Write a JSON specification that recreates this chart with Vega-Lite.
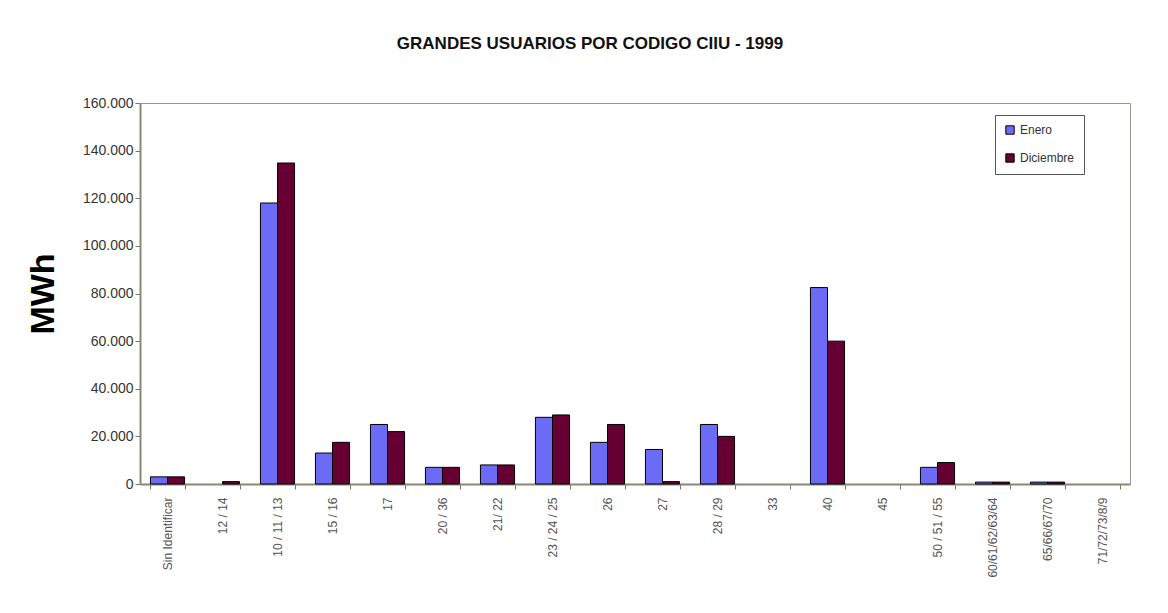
{
  "$schema": "https://vega.github.io/schema/vega-lite/v6.json",
  "width": 990,
  "height": 381,
  "autosize": {"type": "none"},
  "padding": {"left": 140, "top": 103, "right": 38, "bottom": 129},
  "background": "white",
  "title": {
    "text": "GRANDES USUARIOS POR CODIGO CIIU - 1999",
    "font": "Liberation Sans",
    "fontSize": 17,
    "fontWeight": "bold",
    "color": "#111111",
    "anchor": "middle",
    "dx": -45,
    "offset": 43
  },
  "data": {
    "values": [
      {"cat": "Sin Identificar", "mes": "Enero", "mwh": 3000},
      {"cat": "Sin Identificar", "mes": "Diciembre", "mwh": 3000},
      {"cat": "12 / 14", "mes": "Enero", "mwh": 0},
      {"cat": "12 / 14", "mes": "Diciembre", "mwh": 1000},
      {"cat": "10 / 11 / 13", "mes": "Enero", "mwh": 118000},
      {"cat": "10 / 11 / 13", "mes": "Diciembre", "mwh": 134800},
      {"cat": "15 / 16", "mes": "Enero", "mwh": 13000},
      {"cat": "15 / 16", "mes": "Diciembre", "mwh": 17500},
      {"cat": "17", "mes": "Enero", "mwh": 25000},
      {"cat": "17", "mes": "Diciembre", "mwh": 22000},
      {"cat": "20 / 36", "mes": "Enero", "mwh": 7000},
      {"cat": "20 / 36", "mes": "Diciembre", "mwh": 7000},
      {"cat": "21/ 22", "mes": "Enero", "mwh": 8000},
      {"cat": "21/ 22", "mes": "Diciembre", "mwh": 8000},
      {"cat": "23 / 24 / 25", "mes": "Enero", "mwh": 28000},
      {"cat": "23 / 24 / 25", "mes": "Diciembre", "mwh": 29000},
      {"cat": "26", "mes": "Enero", "mwh": 17500},
      {"cat": "26", "mes": "Diciembre", "mwh": 25000},
      {"cat": "27", "mes": "Enero", "mwh": 14500},
      {"cat": "27", "mes": "Diciembre", "mwh": 1000},
      {"cat": "28 / 29", "mes": "Enero", "mwh": 25000},
      {"cat": "28 / 29", "mes": "Diciembre", "mwh": 20000},
      {"cat": "33", "mes": "Enero", "mwh": 0},
      {"cat": "33", "mes": "Diciembre", "mwh": 0},
      {"cat": "40", "mes": "Enero", "mwh": 82500},
      {"cat": "40", "mes": "Diciembre", "mwh": 60000},
      {"cat": "45", "mes": "Enero", "mwh": 0},
      {"cat": "45", "mes": "Diciembre", "mwh": 0},
      {"cat": "50 / 51 / 55", "mes": "Enero", "mwh": 7000},
      {"cat": "50 / 51 / 55", "mes": "Diciembre", "mwh": 9000},
      {"cat": "60/61/62/63/64", "mes": "Enero", "mwh": 800},
      {"cat": "60/61/62/63/64", "mes": "Diciembre", "mwh": 800},
      {"cat": "65/66/67/70", "mes": "Enero", "mwh": 800},
      {"cat": "65/66/67/70", "mes": "Diciembre", "mwh": 800},
      {"cat": "71/72/73/8/9", "mes": "Enero", "mwh": 0},
      {"cat": "71/72/73/8/9", "mes": "Diciembre", "mwh": 0}
    ]
  },
  "transform": [{"filter": "datum.mwh > 0"}],
  "mark": {"type": "bar", "stroke": "#000000", "strokeWidth": 1},
  "encoding": {
    "x": {
      "field": "cat",
      "type": "nominal",
      "sort": null,
      "scale": {
        "domain": ["Sin Identificar", "12 / 14", "10 / 11 / 13", "15 / 16", "17", "20 / 36", "21/ 22", "23 / 24 / 25", "26", "27", "28 / 29", "33", "40", "45", "50 / 51 / 55", "60/61/62/63/64", "65/66/67/70", "71/72/73/8/9"],
        "paddingInner": 0.38,
        "paddingOuter": 0.19
      },
      "axis": {
        "title": null,
        "labelAngle": -90,
        "labelFont": "Liberation Sans",
        "labelFontSize": 12,
        "labelColor": "#555555",
        "labelPadding": 8,
        "tickBand": "extent",
        "tickColor": "#777766",
        "tickSize": 5,
        "domainColor": "#888877",
        "domainWidth": 2,
        "grid": false
      }
    },
    "xOffset": {
      "field": "mes",
      "type": "nominal",
      "sort": ["Enero", "Diciembre"],
      "scale": {"domain": ["Enero", "Diciembre"]}
    },
    "y": {
      "field": "mwh",
      "type": "quantitative",
      "scale": {"domain": [0, 160000], "nice": false},
      "axis": {
        "title": "MWh",
        "titleFont": "Liberation Sans",
        "titleFontSize": 34,
        "titleFontWeight": "bold",
        "titleColor": "#000000",
        "titlePadding": 22,
        "values": [0, 20000, 40000, 60000, 80000, 100000, 120000, 140000, 160000],
        "labelExpr": "replace(format(datum.value, ','), /,/g, '.')",
        "labelFont": "Liberation Sans",
        "labelFontSize": 14,
        "labelColor": "#333333",
        "tickColor": "#777766",
        "tickSize": 5,
        "domainColor": "#888877",
        "domainWidth": 2,
        "grid": false
      }
    },
    "color": {
      "field": "mes",
      "type": "nominal",
      "sort": ["Enero", "Diciembre"],
      "scale": {"domain": ["Enero", "Diciembre"], "range": ["#6b6bf5", "#660033"]},
      "legend": {
        "title": null,
        "orient": "none",
        "legendX": 855,
        "legendY": 12,
        "symbolType": "square",
        "symbolSize": 70,
        "symbolStrokeColor": "#000000",
        "symbolStrokeWidth": 1,
        "labelFont": "Liberation Sans",
        "labelFontSize": 12,
        "labelColor": "#333333",
        "rowPadding": 14,
        "padding": 9,
        "labelLimit": 200,
        "strokeColor": "#555555",
        "fillColor": "white"
      }
    }
  },
  "config": {
    "view": {"stroke": "#999988", "strokeWidth": 1}
  }
}
